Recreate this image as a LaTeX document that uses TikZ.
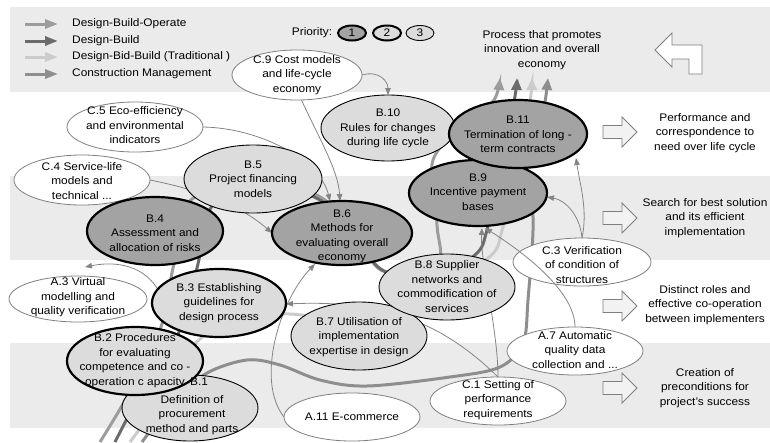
\documentclass[tikz,border=0pt]{standalone}
\usepackage{fontspec}
\setmainfont{Liberation Sans}[FakeStretch=1.08]
\usetikzlibrary{shapes.geometric,arrows.meta}
\definecolor{bandgray}{HTML}{EBEBEB}
\definecolor{fillone}{HTML}{A3A3A3}
\definecolor{filltwo}{HTML}{DCDCDC}
\definecolor{linkgray}{HTML}{858585}
\definecolor{toolgray}{HTML}{7F7F7F}
\definecolor{dbocol}{HTML}{9C9C9C}
\definecolor{dbcol}{HTML}{6B6B6B}
\definecolor{dbbcol}{HTML}{CBCBCB}
\definecolor{cmcol}{HTML}{8E8E8E}
\definecolor{blockfill}{HTML}{F2F2F2}
\newcommand\dfont{\fontsize{11}{14.5}\selectfont}

\begin{document}
\begin{tikzpicture}[x=1pt,y=-1pt,
  every node/.style={font=\dfont},
  bub/.style={ellipse, inner sep=0pt, outer sep=0pt},
  pone/.style={bub, draw=black, line width=2.2pt, fill=fillone},
  ptwo/.style={bub, draw=black, line width=2.2pt, fill=filltwo},
  pthree/.style={bub, draw=black, line width=0.9pt, fill=filltwo},
  tool/.style={bub, draw=toolgray, line width=0.8pt, fill=white},
  txt/.style={align=center, inner sep=0pt},
  link/.style={draw=linkgray, line width=0.8pt, -{Triangle[length=7pt,width=5.5pt]}},
  route/.style={line width=3pt},
  bigtip/.style={-{Triangle[length=12pt,width=10pt]}},
  block/.style={draw=toolgray, line width=0.8pt, fill=blockfill},
]
\useasboundingbox (0,0) rectangle (770,442);

% horizontal bands
\fill[bandgray] (10,7) rectangle (770,92);
\fill[bandgray] (10,176) rectangle (770,260);
\fill[bandgray] (10,343) rectangle (770,428);

% legend
\coordinate (l1a) at (25,24); \coordinate (l1b) at (58,24);
\coordinate (l2a) at (25,41); \coordinate (l2b) at (58,41);
\coordinate (l3a) at (25,57); \coordinate (l3b) at (58,57);
\coordinate (l4a) at (25,74); \coordinate (l4b) at (58,74);
\draw[route, dbocol, -{Triangle[length=13pt,width=9pt]}] (l1a) -- (l1b);
\draw[route, dbcol, -{Triangle[length=13pt,width=9pt]}] (l2a) -- (l2b);
\draw[route, dbbcol, -{Triangle[length=13pt,width=9pt]}] (l3a) -- (l3b);
\draw[route, cmcol, -{Triangle[length=13pt,width=9pt]}] (l4a) -- (l4b);
\node[anchor=west, inner sep=0pt] (lg1) at (72,24) {Design-Build-Operate};
\node[anchor=west, inner sep=0pt] (lg2) at (72,41) {Design-Build};
\node[anchor=west, inner sep=0pt] (lg3) at (72,57) {Design-Bid-Build (Traditional )};
\node[anchor=west, inner sep=0pt] (lg4) at (72,74) {Construction Management};

% priority key
\node[txt] (prio) at (312,33) {Priority:};
\node[pone, line width=2pt, minimum width=28pt, minimum height=15pt] (k1) at (352,33) {};
\node[ptwo, line width=2pt, minimum width=28pt, minimum height=15pt] (k2) at (387,33) {};
\node[pthree, minimum width=28pt, minimum height=15pt] (k3) at (420,33) {};
\node[txt] (k1t) at (352,33) {1};
\node[txt] (k2t) at (387,33) {2};
\node[txt] (k3t) at (420,33) {3};

% goals on the right
\node[txt] (g0) at (542,50) {Process that promotes\\innovation and overall\\economy};
\node[txt] (g1) at (705,133) {Performance and\\correspondence to\\need over life cycle};
\node[txt] (g2) at (705,218) {Search for best solution\\and its efficient\\implementation};
\node[txt] (g3) at (705,305) {Distinct roles and\\effective co-operation\\between implementers};
\node[txt] (g4) at (705,388) {Creation of\\preconditions for\\project's success};

% block arrows
\draw[block, fill=white] (655,50) -- (672,33) -- (672,45) -- (702,45) -- (702,74)
  -- (689,74) -- (689,59) -- (672,59) -- (672,67) -- cycle;
\foreach \cy in {132,218,306,388}{
  \draw[block] (603,\cy-6.5) -- (622,\cy-6.5) -- (622,\cy-15) -- (637,\cy)
    -- (622,\cy+15) -- (622,\cy+6.5) -- (603,\cy+6.5) -- cycle;
}

% procurement method routes (behind the bubbles)
\coordinate (t1) at (500,78);
\coordinate (t2) at (517,78);
\coordinate (t3) at (532,78);
\coordinate (t4) at (548,78);
\draw[route, dbocol, bigtip] plot[smooth, tension=0.55] coordinates {
  (100,442) (128,395) (160,330) (173,268) (185,218) (195,197) (253,179)
  (322,198) (360,245) (386,272) (437,262) (437,225) (433,160) (470,120) (494,100) (t1)};
\draw[route, dbcol, bigtip] plot[smooth, tension=0.55] coordinates {
  (115,442) (140,395) (180,330) (197,268) (205,230) (215,203) (260,185)
  (320,200) (360,245) (384,271) (430,280) (475,255) (487,230) (500,170) (514,102) (t2)};
\draw[route, dbbcol, bigtip] plot[smooth, tension=0.55] coordinates {
  (130,442) (160,400) (185,355) (215,328) (250,318) (290,314) (359,320)
  (420,290) (488,258) (503,227) (520,160) (530,102) (t3)};
\draw[route, cmcol, bigtip] plot[smooth, tension=0.55] coordinates {
  (142,442) (175,400) (207,373) (247,360) (280,365) (320,380) (367,386)
  (450,377) (500,367) (523,343) (528,300) (533,217) (522,170) (540,120) (545,102) (t4)};

% bubbles
\node[tool, minimum width=130pt, minimum height=50pt] (c9) at (297,75) {};
\node[tool, minimum width=136pt, minimum height=50pt] (c5) at (135,127) {};
\node[tool, minimum width=136pt, minimum height=50pt] (c4) at (82,180) {};
\node[tool, minimum width=138pt, minimum height=46pt] (a3) at (78,299) {};
\node[tool, minimum width=136pt, minimum height=48pt] (a11) at (352,417) {};
\node[tool, minimum width=136pt, minimum height=48pt] (c1) at (498,401) {};
\node[tool, minimum width=136pt, minimum height=48pt] (a7) at (575,351) {};
\node[tool, minimum width=138pt, minimum height=48pt] (c3) at (582,262) {};

% links from tools to measures
\draw[link] (c9.east) .. controls (380,70) and (388,82) .. (388,95);
\draw[link] (c9.-80) .. controls (320,140) and (338,170) .. (340,201);
\draw[link] (c5.east) .. controls (260,128) and (320,160) .. (330,201);
\draw[link] (c4.east) .. controls (200,190) and (240,205) .. (272,233);
\draw[link] (a11.west) .. controls (255,380) and (280,300) .. (315,264);
\draw[link] (c1.north) .. controls (440,320) and (380,300) .. (286,304);
\draw[link] (c1.north) .. controls (498,330) and (480,260) .. (482,228);
\draw[link] (a7.north) .. controls (575,290) and (520,250) .. (485,228);
\draw[link] (c3.north) .. controls (580,215) and (565,200) .. (547,197);
\draw[link] (c3.north) .. controls (588,210) and (580,185) .. (576,158);
\draw[link] (157,288) .. controls (140,262) and (110,262) .. (85,267);

\node[pthree, minimum width=136pt, minimum height=66pt] (b1) at (190,408) {};
\node[ptwo, minimum width=136pt, minimum height=68pt] (b2) at (135,361) {};
\node[ptwo, minimum width=134pt, minimum height=68pt] (b3) at (219,303) {};
\node[pone, minimum width=136pt, minimum height=68pt] (b4) at (155,231) {};
\node[pthree, minimum width=138pt, minimum height=68pt] (b5) at (253,179) {};
\node[pone, minimum width=140pt, minimum height=64pt] (b6) at (342,233) {};
\node[pthree, minimum width=136pt, minimum height=68pt] (b7) at (359,336) {};
\node[pthree, minimum width=136pt, minimum height=66pt] (b8) at (447,287) {};
\node[pone, minimum width=138pt, minimum height=66pt] (b9) at (478,193) {};
\node[pthree, minimum width=134pt, minimum height=66pt] (b10) at (388,128) {};
\node[pone, minimum width=138pt, minimum height=68pt] (b11) at (518,134) {};

% bubble texts
\node[txt] (c9t) at (297,75) {C.9 Cost models\\and life-cycle\\economy};
\node[txt] (c5t) at (135,125.5) {C.5 Eco-efficiency\\and environmental\\indicators};
\node[txt] (c4t) at (82,181) {C.4 Service-life\\models and\\technical ...};
\node[txt] (a3t) at (78,297.5) {A.3 Virtual\\modelling and\\quality verification};
\node[txt] (a11t) at (352,417) {A.11 E-commerce};
\node[txt] (c1t) at (498,400) {C.1 Setting of\\performance\\requirements};
\node[txt] (a7t) at (575,350) {A.7 Automatic\\quality data\\collection and ...};
\node[txt] (c3t) at (582,265) {C.3 Verification\\of condition of\\structures};
\node[txt] (b1t) at (192,406.5) {\hspace*{14pt}B.1\\[3pt]Definition of\\procurement\\method and parts};
\node[txt] (b2t) at (135,360.5) {B.2 Procedures\\for evaluating\\competence and co -\\operation c apacity};
\node[txt] (b3t) at (219,302.7) {B.3 Establishing\\guidelines for\\design process};
\node[txt] (b4t) at (155,233) {B.4\\Assessment and\\allocation of risks};
\node[txt] (b5t) at (253,179) {B.5\\Project financing\\models};
\node[txt] (b6t) at (342,236.5) {B.6\\Methods for\\evaluating overall\\economy};
\node[txt] (b7t) at (359,337) {B.7 Utilisation of\\implementation\\expertise in design};
\node[txt] (b8t) at (447,286.5) {B.8 Supplier\\networks and\\commodification of\\services};
\node[txt] (b9t) at (478,192) {B.9\\Incentive payment\\bases};
\node[txt] (b10t) at (388,128.5) {B.10\\Rules for changes\\during life cycle};
\node[txt] (b11t) at (518,134.5) {B.11\\Termination of long -\\term contracts};
\end{tikzpicture}
\end{document}
